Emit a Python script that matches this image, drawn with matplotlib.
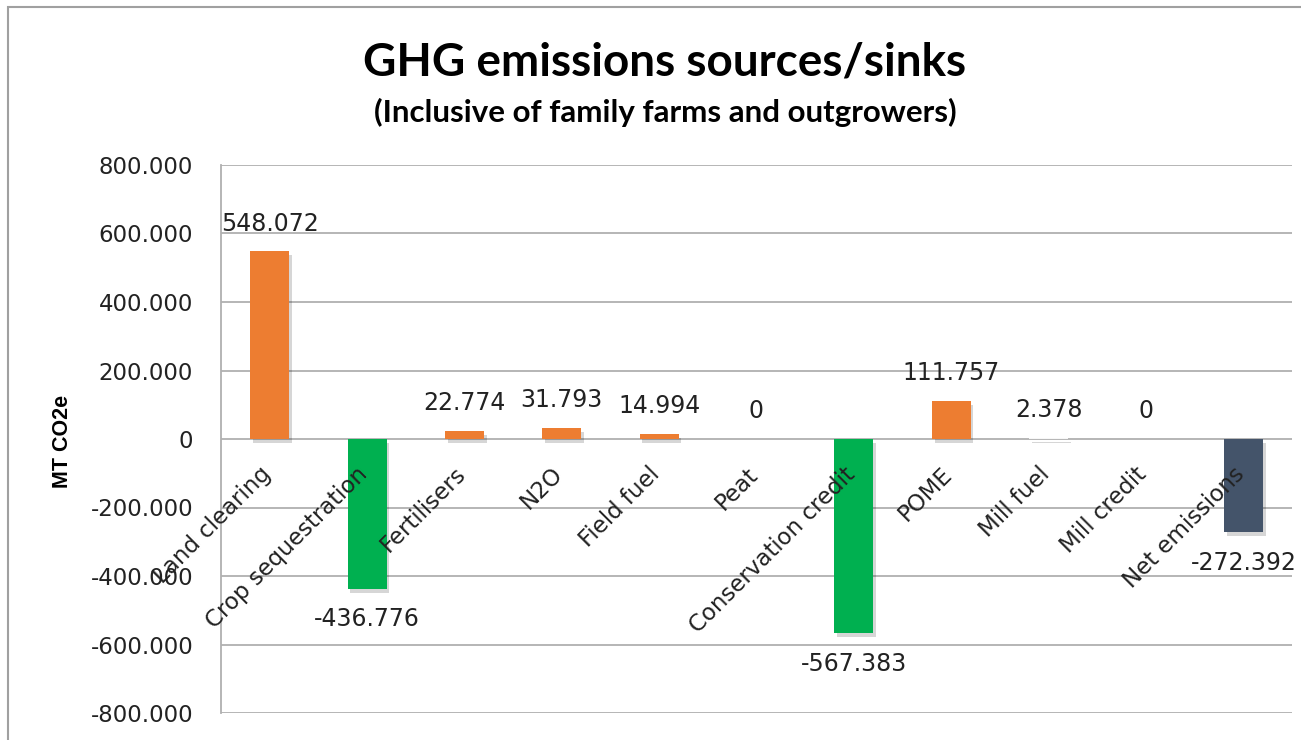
import matplotlib.pyplot as plt
import matplotlib.patheffects as pe
from matplotlib.patches import Rectangle

categories = ['Land clearing', 'Crop sequestration', 'Fertilisers', 'N2O', 'Field fuel',
              'Peat', 'Conservation credit', 'POME', 'Mill fuel', 'Mill credit', 'Net emissions']
values = [548.072, -436.776, 22.774, 31.793, 14.994, 0, -567.383, 111.757, 2.378, 0, -272.392]
labels = ['548.072', '-436.776', '22.774', '31.793', '14.994', '0', '-567.383',
          '111.757', '2.378', '0', '-272.392']
colors = ['#ED7D31', '#00B050', '#ED7D31', '#ED7D31', '#ED7D31', '#ED7D31', '#00B050',
          '#ED7D31', '#F7F7F7', '#F7F7F7', '#44546A']
yticks = [800, 600, 400, 200, 0, -200, -400, -600, -800]
ytick_labels = ['800.000', '600.000', '400.000', '200.000', '0',
                '-200.000', '-400.000', '-600.000', '-800.000']

fig = plt.figure(figsize=(13.01, 7.4), dpi=100)
ax = fig.add_axes([221/1301, 1-713/740, (1292-221)/1301, (713-165)/740])

# outer chart frame
fig.patches.append(Rectangle((8/1301, -0.05), 1.1, 1-7/740+0.05, transform=fig.transFigure,
                             fill=False, edgecolor='#A0A0A0', linewidth=1.5, clip_on=False))

x = list(range(len(categories)))
bars = ax.bar(x, values, width=0.40, color=colors, zorder=3)
for b in bars:
    b.set_path_effects([pe.SimplePatchShadow(offset=(2, -3), shadow_rgbFace='#000000', alpha=0.16),
                        pe.Normal()])

ax.set_xlim(-0.5, len(categories) - 0.5)
ax.set_ylim(-800, 800)
ax.set_yticks(yticks)
ax.set_yticklabels(ytick_labels)
ax.tick_params(axis='y', length=0, pad=20, labelsize=16.5, labelcolor='#222222')
ax.set_xticks([])
ax.grid(axis='y', color='#B0B0B0', linewidth=1.3, zorder=0)
for s in ['top', 'right', 'bottom']:
    ax.spines[s].set_visible(False)
ax.spines['left'].set_color('#B0B0B0')
ax.spines['left'].set_linewidth(1.3)

for i, (v, t) in enumerate(zip(values, labels)):
    off = 20 if v >= 0 else -22
    ax.annotate(t, xy=(i, v), xytext=(0, off), textcoords='offset points',
                ha='center', va='center', fontsize=17, color='#222222')

for i, c in enumerate(categories):
    ax.annotate(c, xy=(i, 0), xytext=(4, -17), textcoords='offset points',
                ha='right', va='top', rotation=45, fontsize=16.5, color='#222222', zorder=5)

fig.text(665/1301, 1-62/740, 'GHG emissions sources/sinks', family='Lato', weight='bold',
         fontsize=33, ha='center', va='center')
fig.text(665/1301, 1-112/740, '(Inclusive of family farms and outgrowers)', family='Lato',
         weight='bold', fontsize=22.5, ha='center', va='center')
fig.text(63/1301, 1-441/740, 'MT CO2e', family='Liberation Sans', weight='bold',
         fontsize=15.5, rotation=90, ha='center', va='center')

fig.savefig('out.png', dpi=100)
